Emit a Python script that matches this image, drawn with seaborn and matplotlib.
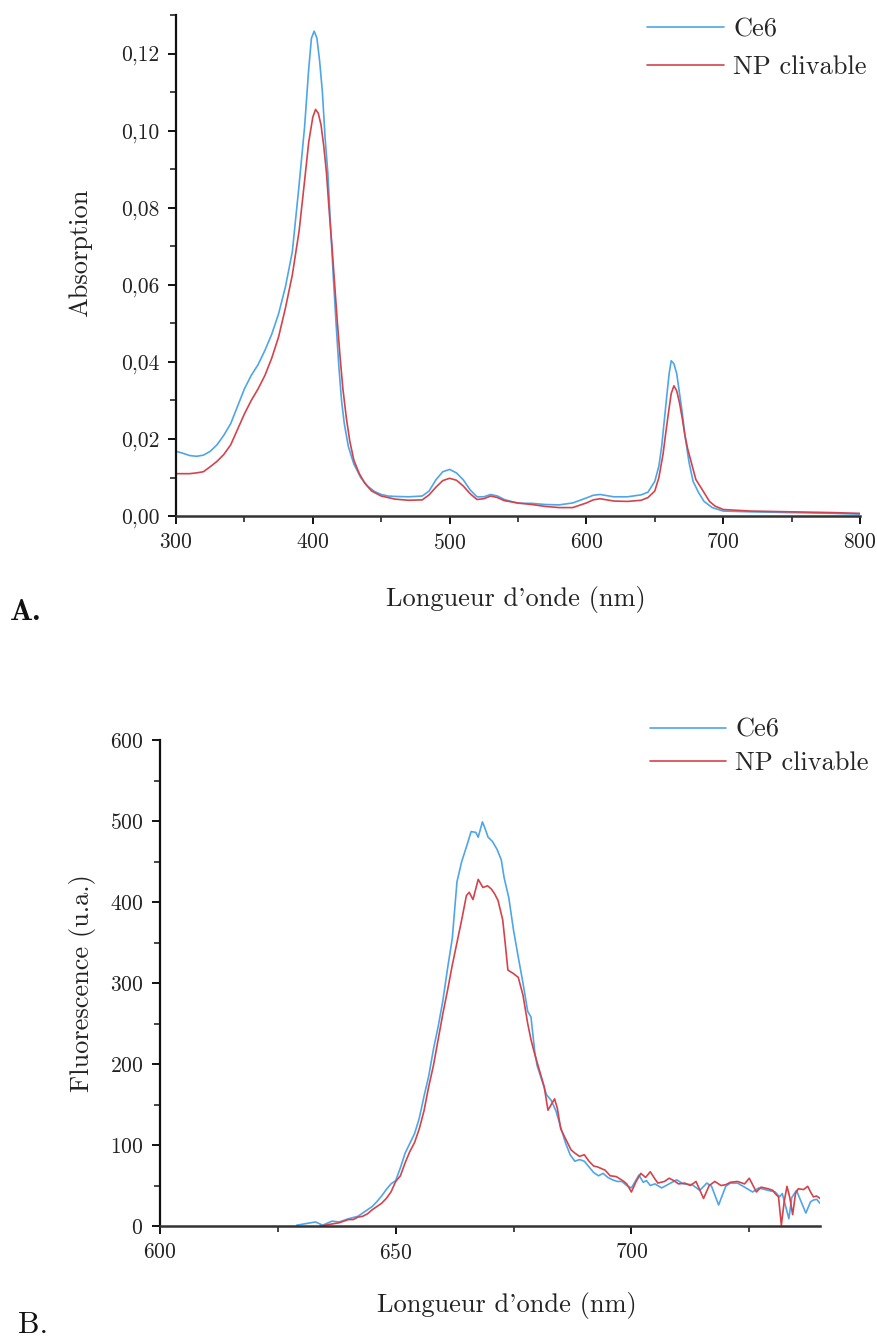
import matplotlib
matplotlib.use("Agg")
import matplotlib.pyplot as plt
from matplotlib.ticker import MultipleLocator, FuncFormatter
import seaborn as sns
import pandas as pd

# --- A. absorption spectra ---
abs_ce6_wl = [300, 305, 310, 315, 320, 325, 330, 335, 340, 345, 350, 355, 360, 365, 370, 375,
              380, 385, 390, 394, 397, 399, 401, 403, 405, 407, 409, 411, 413, 415, 417, 419,
              421, 423, 426, 430, 435, 440, 445, 450, 455, 460, 470, 480, 485, 490, 495, 500,
              505, 510, 515, 520, 525, 530, 535, 540, 550, 560, 570, 580, 590, 600, 605, 610,
              615, 620, 630, 640, 645, 650, 653, 655, 657, 659, 660.5, 662, 664, 666, 668, 670,
              672, 675, 678, 682, 686, 692, 700, 720, 750, 780, 800]
abs_ce6 = [0.0168, 0.0163, 0.0157, 0.0155, 0.0158, 0.0168, 0.0185, 0.0210, 0.0240, 0.0285,
           0.0330, 0.0365, 0.0393, 0.0430, 0.0472, 0.0525, 0.0595, 0.0685, 0.0860, 0.1010,
           0.1160, 0.1240, 0.1258, 0.1240, 0.1180, 0.1100, 0.0980, 0.0890, 0.0750, 0.0620,
           0.0500, 0.0390, 0.0300, 0.0240, 0.0180, 0.0135, 0.0100, 0.0078, 0.0064, 0.0056,
           0.0052, 0.0051, 0.0050, 0.0052, 0.0065, 0.0094, 0.0115, 0.0121, 0.0112, 0.0094,
           0.0068, 0.0050, 0.0050, 0.0056, 0.0052, 0.0043, 0.0033, 0.0033, 0.0030, 0.0029,
           0.0034, 0.0047, 0.0054, 0.0056, 0.0053, 0.0050, 0.0050, 0.0055, 0.0062, 0.0090,
           0.0130, 0.0180, 0.0250, 0.0320, 0.0370, 0.0403, 0.0395, 0.0370, 0.0320, 0.0270,
           0.0210, 0.0140, 0.0090, 0.0061, 0.0038, 0.0022, 0.0013, 0.0011, 0.0009, 0.0007,
           0.0005]

abs_np_wl = [300, 305, 310, 315, 320, 325, 330, 335, 340, 345, 350, 355, 360, 365, 370, 375,
             380, 385, 390, 394, 397, 400, 402, 404, 406, 408, 410, 412, 414, 416, 418, 420,
             422, 424.5, 427, 430, 434, 438, 443, 450, 460, 470, 480, 485, 490, 495, 500, 505,
             510, 515, 520, 525, 530, 535, 540, 550, 560, 570, 580, 590, 600, 605, 610, 615,
             620, 630, 640, 645, 650, 653, 656, 658, 660, 662, 664, 666, 668, 670, 672, 674,
             677, 680, 684.6, 690, 694, 700, 720, 750, 780, 800]
abs_np = [0.0110, 0.0110, 0.0110, 0.0112, 0.0115, 0.0128, 0.0142, 0.0160, 0.0185, 0.0225,
          0.0265, 0.0300, 0.0330, 0.0365, 0.0410, 0.0465, 0.0540, 0.0625, 0.0740, 0.0870,
          0.0970, 0.1035, 0.1055, 0.1045, 0.1015, 0.0960, 0.0890, 0.0790, 0.0700, 0.0600,
          0.0500, 0.0410, 0.0330, 0.0255, 0.0195, 0.0145, 0.0110, 0.0085, 0.0065, 0.0052,
          0.0044, 0.0041, 0.0042, 0.0055, 0.0075, 0.0092, 0.0098, 0.0093, 0.0078, 0.0058,
          0.0043, 0.0045, 0.0052, 0.0048, 0.0040, 0.0034, 0.0030, 0.0025, 0.0022, 0.0022,
          0.0034, 0.0042, 0.0045, 0.0042, 0.0039, 0.0038, 0.0041, 0.0048, 0.0065, 0.0100,
          0.0160, 0.0215, 0.0268, 0.0318, 0.0338, 0.0325, 0.0295, 0.0255, 0.0210, 0.0175,
          0.0135, 0.0095, 0.0069, 0.0038, 0.0026, 0.0017, 0.0013, 0.0011, 0.0009, 0.0007]

# --- B. fluorescence spectra ---
fluo_ce6_wl = [629, 631, 633, 634.5, 636.5, 638, 640, 642, 643, 645, 646, 647, 648, 649, 650,
               651, 652, 653, 654, 655, 656, 657, 658, 659, 660, 661, 662, 663, 664, 665, 666,
               667, 667.5, 668.4, 669, 669.6, 670.5, 671.5, 672.4, 673, 674, 675, 676, 677,
               678, 678.7, 679.5, 680, 681, 682, 683, 684, 685, 686, 687, 688, 689, 690, 691,
               692, 693, 694, 695, 696, 697, 698, 699, 700, 701, 701.6, 702.5, 703.2, 704, 705,
               706.4, 708, 709.6, 711, 712.9, 714.5, 716, 717, 718.5, 720, 721, 722.5, 724,
               725.7, 727, 729, 730.5, 731.4, 732, 733.4, 734, 735, 736, 737, 738, 738.6,
               739.3, 740]
fluo_ce6 = [1, 3, 5, 1, 6, 5, 9, 12, 16, 24, 30, 37, 45, 52, 56, 72, 90, 102, 114, 133, 160,
            185, 218, 246, 278, 318, 355, 425, 450, 468, 487, 486, 480, 499, 490, 480, 475,
            465, 452, 430, 405, 365, 332, 300, 265, 258, 215, 198, 180, 162, 155, 142, 122,
            103, 88, 80, 82, 80, 73, 66, 62, 65, 60, 57, 55, 55, 50, 47, 57, 63, 54, 56, 50,
            52, 47, 52, 57, 52, 51, 44, 53, 49, 26, 49, 53, 53, 48, 42, 47, 44, 42, 36, 40,
            9, 35, 44, 30, 16, 30, 32, 33, 28]

fluo_np_wl = [634, 636, 637, 638, 640, 641, 642, 643, 644, 645, 646, 647, 648, 649, 650, 651,
              652, 653, 654, 655, 656, 657, 658, 659, 660, 661, 662, 663, 664, 665, 665.6,
              666.4, 667.5, 668.5, 669.5, 670.3, 671, 671.7, 672.7, 673.3, 673.8, 674.9, 676,
              677, 678, 678.7, 679.5, 680.5, 681.5, 682.3, 683, 683.7, 684.3, 685, 686, 687.2,
              688, 689, 690, 691, 692, 692.8, 694.4, 695.5, 696.8, 698.4, 699, 700, 701, 702,
              703, 704, 705, 705.6, 707, 708, 709, 710, 711.3, 712.5, 713.7, 715.3, 716.5,
              717.7, 719, 720, 721, 722.5, 724, 725, 726.5, 727.5, 729, 730, 730.5, 731.2,
              731.8, 732.4, 733, 733.6, 734.2, 734.8, 735.4, 736.5, 737.4, 738, 738.6, 739.3,
              740]
fluo_np = [0, 2, 3, 4, 8, 8, 11, 12, 15, 20, 24, 28, 34, 42, 55, 62, 78, 92, 103, 120, 142,
           172, 198, 230, 262, 291, 322, 350, 378, 408, 412, 403, 428, 418, 420, 416, 410, 402,
           378, 345, 316, 312, 307, 285, 250, 230, 212, 192, 172, 143, 150, 157, 145, 120, 108,
           94, 90, 86, 88, 80, 74, 73, 69, 62, 61, 55, 52, 42, 55, 65, 60, 67, 58, 53, 55, 59,
           56, 52, 53, 50, 55, 34, 50, 55, 50, 51, 54, 55, 52, 59, 42, 48, 46, 44, 40, 36, 1,
           30, 49, 35, 14, 40, 46, 45, 49, 42, 36, 37, 34]

series_names = ["Ce6", "NP clivable"]
colors = {"Ce6": "#4ea6ea", "NP clivable": "#d4434c"}


def long_frame(wl_a, val_a, wl_b, val_b):
    a = pd.DataFrame({"wl": wl_a, "val": val_a, "serie": series_names[0]})
    b = pd.DataFrame({"wl": wl_b, "val": val_b, "serie": series_names[1]})
    return pd.concat([a, b], ignore_index=True)


def style_axes(ax, xmaj, xmin, ymaj, ymin):
    sns.despine(ax=ax)
    ax.spines["left"].set_linewidth(1.6)
    ax.spines["bottom"].set_linewidth(1.8)
    ax.spines["left"].set_color("#111111")
    ax.spines["bottom"].set_color("#333333")
    ax.xaxis.set_major_locator(MultipleLocator(xmaj))
    ax.xaxis.set_minor_locator(MultipleLocator(xmin))
    ax.yaxis.set_major_locator(MultipleLocator(ymaj))
    ax.yaxis.set_minor_locator(MultipleLocator(ymin))
    ax.tick_params(which="major", length=6, width=1.4, labelsize=15.5, direction="out", pad=6)
    ax.tick_params(which="minor", length=4, width=1.2, direction="out")
    ax.tick_params(colors="#111111", labelcolor="#222222")
    ax.grid(False)


sns.set_theme(style="ticks")
plt.rcParams["font.family"] = ["cmr10"]
plt.rcParams["axes.unicode_minus"] = False
plt.rcParams["axes.formatter.use_mathtext"] = True

fig = plt.figure(figsize=(8.77, 13.38), dpi=100)
ax_a = fig.add_axes([0.2007, 0.6143, 0.7799, 0.3745])
ax_b = fig.add_axes([0.1824, 0.0837, 0.7526, 0.3632])

# Panel A
df_a = long_frame(abs_ce6_wl, abs_ce6, abs_np_wl, abs_np)
sns.lineplot(data=df_a, x="wl", y="val", hue="serie", palette=colors, estimator=None,
             sort=False, linewidth=1.2, legend=False, ax=ax_a)
ax_a.set_xlim(300, 800)
ax_a.set_ylim(0, 0.13)
style_axes(ax_a, 100, 50, 0.02, 0.01)
ax_a.yaxis.set_major_formatter(FuncFormatter(lambda v, p: f"{v:.2f}".replace(".", ",")))
ax_a.set_xlabel("Longueur d'onde (nm)", fontsize=19, color="#222222")
ax_a.set_ylabel("Absorption", fontsize=19, color="#222222")
ax_a.xaxis.set_label_coords(0.497, -0.14)
ax_a.yaxis.set_label_coords(-0.122, 0.525)
ax_a.legend(ax_a.get_lines()[:2], series_names, loc="upper left",
            bbox_to_anchor=(0.689, 0.995), frameon=False, fontsize=19, handlelength=2.9,
            handletextpad=0.35, labelspacing=0.55, borderpad=0, borderaxespad=0)

# Panel B
df_b = long_frame(fluo_ce6_wl, fluo_ce6, fluo_np_wl, fluo_np)
sns.lineplot(data=df_b, x="wl", y="val", hue="serie", palette=colors, estimator=None,
             sort=False, linewidth=1.2, legend=False, ax=ax_b)
ax_b.set_xlim(600, 740)
ax_b.set_ylim(0, 600)
style_axes(ax_b, 50, 25, 100, 50)
ax_b.set_xlabel("Longueur d'onde (nm)", fontsize=19, color="#222222")
ax_b.set_ylabel("Fluorescence (u.a.)", fontsize=19, color="#222222")
ax_b.xaxis.set_label_coords(0.525, -0.135)
ax_b.yaxis.set_label_coords(-0.097, 0.5)
ax_b.legend(ax_b.get_lines()[:2], series_names, loc="upper left",
            bbox_to_anchor=(0.742, 1.045), frameon=False, fontsize=19, handlelength=2.9,
            handletextpad=0.35, labelspacing=0.35, borderpad=0, borderaxespad=0)

fig.text(0.011, 1 - 620 / 1338, "A.", fontfamily="cmb10", fontsize=22, color="#111111")
fig.text(0.02, 1 - 1333 / 1338, "B.", fontfamily="cmr10", fontsize=22, color="#111111")

fig.savefig("out.png", dpi=100)
